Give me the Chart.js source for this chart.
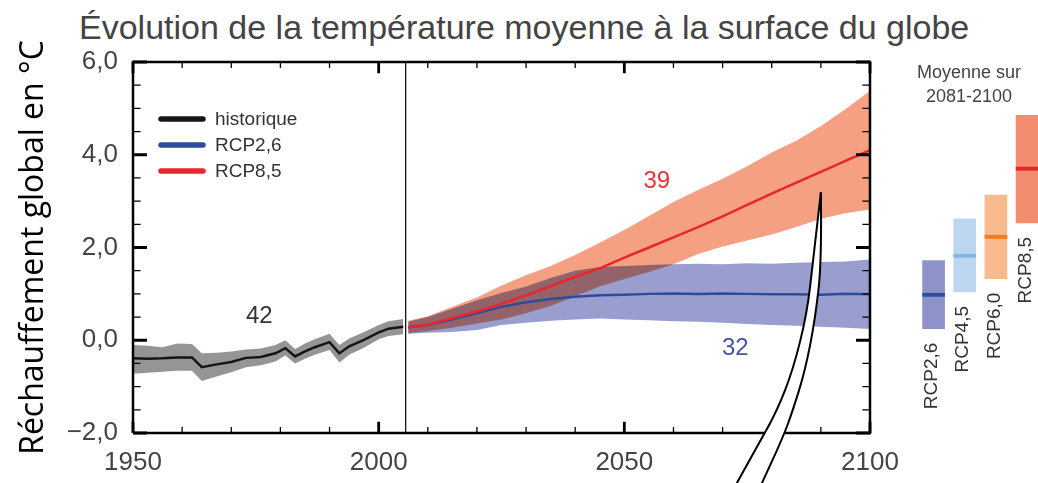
<!DOCTYPE html>
<html lang="fr">
<head>
  <meta charset="UTF-8">
  <title>Évolution de la température moyenne à la surface du globe</title>
  <script src="https://cdn.jsdelivr.net/npm/chart.js"></script>
  <style>
    html, body { margin: 0; padding: 0; background: #fff; overflow: hidden; }
    body { width: 1038px; height: 483px; position: relative; font-family: "Liberation Sans", Arial, sans-serif; }
    #titre { position: absolute; left: 79px; top: 11px; font-size: 34px; line-height: 33px; color: #444; white-space: nowrap; }
    #mainChart { position: absolute; left: 0; top: 0; }
    #sideChart { position: absolute; left: 900px; top: 0; }
  </style>
</head>
<body>
  <div id="titre">Évolution de la température moyenne à la surface du globe</div>
  <canvas id="mainChart" width="900" height="483"></canvas>
  <canvas id="sideChart" width="138" height="483"></canvas>

  <script>
    // axes
    const xMin = 1950, xMax = 2100, yMin = -2, yMax = 6;
    const xTickValues = [1950, 1960, 1970, 1980, 1990, 2000, 2010, 2020, 2030, 2040, 2050, 2060, 2070, 2080, 2090, 2100];
    const yTickValues = [-2, -1.5, -1, -0.5, 0, 0.5, 1, 1.5, 2, 2.5, 3, 3.5, 4, 4.5, 5, 5.5, 6];

    // historique (1950-2005)
    const histYears = [1950, 1953, 1956, 1959, 1962, 1964, 1967, 1970, 1973, 1976, 1979, 1981, 1983, 1985, 1987, 1990, 1992, 1994, 1997, 2000, 2002, 2005];
    const histMean  = [-0.39, -0.40, -0.39, -0.37, -0.37, -0.58, -0.52, -0.47, -0.38, -0.36, -0.28, -0.17, -0.35, -0.24, -0.15, -0.04, -0.28, -0.13, 0.01, 0.17, 0.25, 0.29];
    const histHigh  = [-0.10, -0.12, -0.15, -0.07, -0.08, -0.28, -0.27, -0.24, -0.20, -0.18, -0.10, 0.00, -0.19, -0.07, 0.02, 0.14, -0.10, 0.04, 0.18, 0.33, 0.41, 0.46];
    const histLow   = [-0.72, -0.70, -0.68, -0.66, -0.66, -0.88, -0.78, -0.69, -0.58, -0.54, -0.46, -0.33, -0.50, -0.40, -0.31, -0.21, -0.48, -0.31, -0.16, 0.02, 0.09, 0.13];

    // projections (2006-2100)
    const projYears = [2006, 2010, 2015, 2020, 2025, 2030, 2035, 2040, 2045, 2050, 2055, 2060, 2065, 2070, 2075, 2080, 2085, 2090, 2095, 2100];
    const rcp26Mean = [0.28, 0.33, 0.45, 0.58, 0.72, 0.82, 0.89, 0.94, 0.97, 0.98, 1.00, 1.01, 1.00, 1.01, 1.00, 0.99, 0.99, 0.98, 1.00, 0.99];
    const rcp26High = [0.40, 0.50, 0.68, 0.86, 1.02, 1.16, 1.34, 1.50, 1.58, 1.60, 1.62, 1.64, 1.65, 1.64, 1.66, 1.65, 1.67, 1.69, 1.70, 1.74];
    const rcp26Low  = [0.14, 0.16, 0.18, 0.22, 0.33, 0.38, 0.42, 0.45, 0.47, 0.45, 0.43, 0.41, 0.40, 0.38, 0.35, 0.33, 0.31, 0.29, 0.27, 0.24];
    const rcp85Mean = [0.28, 0.34, 0.48, 0.62, 0.79, 0.97, 1.16, 1.37, 1.55, 1.78, 2.00, 2.22, 2.44, 2.67, 2.92, 3.16, 3.40, 3.63, 3.87, 4.10];
    const rcp85High = [0.42, 0.52, 0.72, 0.92, 1.18, 1.40, 1.60, 1.84, 2.10, 2.38, 2.68, 2.98, 3.24, 3.48, 3.75, 4.05, 4.30, 4.62, 4.98, 5.38];
    const rcp85Low  = [0.15, 0.20, 0.27, 0.36, 0.45, 0.58, 0.74, 0.95, 1.16, 1.32, 1.47, 1.64, 1.86, 2.02, 2.15, 2.28, 2.44, 2.62, 2.74, 2.82];

    const splitYear = 2005.5;

    // nombre de modèles
    const countText   = ['42', '39', '32'];
    const countYears  = [1975.7, 2056.6, 2072.6];
    const countValues = [0.51, 3.42, -0.18];
    const countColors = ['#333333', '#E8333A', '#4452A8'];

    // moyenne sur 2081-2100
    const scenarios  = ['RCP2,6', 'RCP4,5', 'RCP6,0', 'RCP8,5'];
    const periodLow  = [0.25, 1.04, 1.33, 2.53];
    const periodHigh = [1.72, 2.62, 3.13, 4.85];
    const periodMean = [0.98, 1.82, 2.23, 3.70];
    const boxColors  = ['#8E92C9', '#BCD6F0', '#F8BA8C', '#F48C70'];
    const meanColors = ['#2F4FA0', '#82B8E2', '#F07C24', '#E4232B'];

    // flèche blanche (années / °C)
    const arrowLeftYears   = [2090.0, 2088.4, 2087.2, 2084.3, 2081.1, 2078.0, 2072.9];
    const arrowLeftValues  = [3.19, 1.72, 0.58, -0.65, -1.51, -2.11, -3.08];
    const arrowRightYears  = [2090.0, 2090.2, 2088.8, 2086.8, 2084.3, 2082.3, 2078.0];
    const arrowRightValues = [3.19, 1.72, 0.43, -0.65, -1.51, -2.09, -3.08];

    Chart.defaults.font.family = '"Liberation Sans", Arial, sans-serif';
    Chart.defaults.color = '#444';

    const pts = (xs, ys) => xs.map((x, i) => ({ x, y: ys[i] }));
    const fmt = v => (v < 0 ? '\u2212' : '') + Math.abs(v).toFixed(1).replace('.', ',');

    const band = (label, xs, ys, color, fill) => ({
      label, data: pts(xs, ys), fill, backgroundColor: color,
      borderWidth: 0, borderColor: 'transparent', pointRadius: 0
    });
    const line = (label, xs, ys, color, order) => ({
      label, data: pts(xs, ys), fill: false, borderColor: color,
      borderWidth: 2.5, pointRadius: 0, order
    });

    // graduations vers l'intérieur sur les 4 côtés (segments séparés par un point vide)
    function tickSegments(major, xLen, yLen) {
      const out = [];
      xTickValues.filter(v => (v % 50 === 0) === major).forEach(v => {
        out.push({ x: v, y: yMax }, { x: v, y: yMax - xLen }, { x: v, y: null });
        out.push({ x: v, y: yMin }, { x: v, y: yMin + xLen }, { x: v, y: null });
      });
      yTickValues.filter(v => (v % 2 === 0) === major).forEach(v => {
        out.push({ x: xMin, y: v }, { x: xMin + yLen, y: v }, { x: xMin, y: null });
        out.push({ x: xMax, y: v }, { x: xMax - yLen, y: v }, { x: xMax, y: null });
      });
      return out;
    }
    const trait = (label, data, width) => ({
      label, data, borderColor: '#000', borderWidth: width, pointRadius: 0,
      fill: false, spanGaps: false, clip: false, order: 0
    });

    function smoothPath(ctx, p, start) {
      if (start) ctx.moveTo(p[0][0], p[0][1]); else ctx.lineTo(p[0][0], p[0][1]);
      for (let i = 1; i < p.length - 1; i++) {
        ctx.quadraticCurveTo(p[i][0], p[i][1], (p[i][0] + p[i + 1][0]) / 2, (p[i][1] + p[i + 1][1]) / 2);
      }
      ctx.lineTo(p[p.length - 1][0], p[p.length - 1][1]);
    }

    const annotations = {
      id: 'annotations',
      // les enveloppes se superposent en "multiply" comme sur l'original
      beforeDraw(chart) { chart.ctx.globalCompositeOperation = 'multiply'; },
      beforeDatasetsDraw(chart) { chart.ctx.globalCompositeOperation = 'source-over'; },
      afterDraw(chart) {
        const { ctx, chartArea: a, scales: { x, y } } = chart;
        ctx.save();
        ctx.globalCompositeOperation = 'source-over';

        // nombre de modèles
        ctx.font = '24px "Liberation Sans", Arial, sans-serif';
        ctx.textAlign = 'center';
        ctx.textBaseline = 'middle';
        countText.forEach((s, i) => {
          ctx.fillStyle = countColors[i];
          ctx.fillText(s, x.getPixelForValue(countYears[i]), y.getPixelForValue(countValues[i]));
        });

        // légende
        ctx.font = '19px "Liberation Sans", Arial, sans-serif';
        ctx.textAlign = 'left';
        ctx.lineCap = 'round';
        chart.data.datasets.filter(d => d.legend).forEach((d, i) => {
          const ly = a.top + 57 + i * 26;
          ctx.strokeStyle = d.borderColor;
          ctx.lineWidth = 5.5;
          ctx.beginPath();
          ctx.moveTo(a.left + 28, ly); ctx.lineTo(a.left + 70, ly);
          ctx.stroke();
          ctx.fillStyle = '#333';
          ctx.fillText(d.label, a.left + 82, ly + 1);
        });

        // flèche
        const left = arrowLeftYears.map((v, i) => [x.getPixelForValue(v), y.getPixelForValue(arrowLeftValues[i])]);
        const right = arrowRightYears.map((v, i) => [x.getPixelForValue(v), y.getPixelForValue(arrowRightValues[i])]);
        ctx.lineCap = 'butt';
        ctx.beginPath();
        smoothPath(ctx, left, true);
        smoothPath(ctx, right.slice().reverse(), false);
        ctx.closePath();
        ctx.fillStyle = '#fff';
        ctx.fill();
        ctx.strokeStyle = '#000';
        ctx.lineWidth = 2;
        ctx.beginPath(); smoothPath(ctx, left, true); ctx.stroke();
        ctx.beginPath(); smoothPath(ctx, right, true); ctx.stroke();
        ctx.restore();
      }
    };

    const hist = line('historique', histYears, histMean, '#151515', 3);
    const r26 = line('RCP2,6', projYears, rcp26Mean, '#2E4C9E', 2);
    const r85 = line('RCP8,5', projYears, rcp85Mean, '#E8262B', 1);
    hist.legend = r26.legend = r85.legend = true;

    new Chart(document.getElementById('mainChart'), {
      type: 'line',
      data: {
        datasets: [
          band('hist haut', histYears, histHigh, '#959595', '+1'),
          band('hist bas', histYears, histLow, '#959595', false),
          band('RCP2,6 haut', projYears, rcp26High, '#9A9ECE', '+1'),
          band('RCP2,6 bas', projYears, rcp26Low, '#9A9ECE', false),
          band('RCP8,5 haut', projYears, rcp85High, '#F5A083', '+1'),
          band('RCP8,5 bas', projYears, rcp85Low, '#F5A083', false),
          hist, r26, r85,
          { label: '2005', data: [{ x: splitYear, y: yMin }, { x: splitYear, y: yMax }],
            borderColor: '#000', borderWidth: 1.2, pointRadius: 0, fill: false, order: 4 },
          trait('cadre', [{ x: xMin, y: yMin }, { x: xMin, y: yMax }, { x: xMax, y: yMax }, { x: xMax, y: yMin }, { x: xMin, y: yMin }], 2.5),
          trait('graduations', tickSegments(false, 0.13, 1.55), 1.3),
          trait('graduations majeures', tickSegments(true, 0.24, 2.85), 2.8)
        ]
      },
      options: {
        responsive: false,
        animation: false,
        layout: { padding: { top: 62, right: 30, bottom: 0, left: 0 }, autoPadding: false },
        plugins: {
          legend: { display: false },
          tooltip: { enabled: false },
          filler: { drawTime: 'beforeDatasetsDraw' }
        },
        scales: {
          x: {
            type: 'linear', min: xMin, max: xMax,
            grid: { display: false, drawTicks: false }, border: { display: false },
            afterFit: s => { s.height = 50; s.paddingLeft = 0; s.paddingRight = 0; },
            ticks: {
              stepSize: 10, autoSkip: false, maxRotation: 0, padding: 14,
              color: '#444', font: { size: 26 },
              callback: v => v % 50 === 0 ? String(v) : ''
            }
          },
          y: {
            min: yMin, max: yMax,
            grid: { display: false, drawTicks: false }, border: { display: false },
            afterFit: s => { s.width = 133; s.paddingTop = 0; s.paddingBottom = 0; },
            ticks: {
              stepSize: 0.5, padding: 15, color: '#444', font: { size: 26 },
              callback: v => v % 2 === 0 ? fmt(v) : ''
            },
            title: {
              display: true, text: 'Réchauffement global en °C', color: '#000',
              font: { family: '"Open Sans", sans-serif', size: 32 },
              padding: { top: 15, bottom: 0 }
            }
          }
        }
      },
      plugins: [annotations]
    });

    const sideText = {
      id: 'sideText',
      afterDraw(chart) {
        const { ctx, chartArea: a, scales: { x, y } } = chart;
        ctx.save();
        ctx.fillStyle = '#444';
        ctx.font = '18px "Liberation Sans", Arial, sans-serif';
        ctx.textAlign = 'center';
        ctx.textBaseline = 'middle';
        ctx.fillText('Moyenne sur', a.left + 51, 73);
        ctx.fillText('2081-2100', a.left + 51, 97);
        ctx.fillStyle = '#333';
        ctx.font = '19px "Liberation Sans", Arial, sans-serif';
        ctx.textAlign = 'right';
        scenarios.forEach((s, i) => {
          ctx.save();
          ctx.translate(x.getPixelForValue(i + 1) - 1.5, y.getPixelForValue(periodLow[i]) + 14);
          ctx.rotate(-Math.PI / 2);
          ctx.fillText(s, 0, 0);
          ctx.restore();
        });
        ctx.restore();
      }
    };

    new Chart(document.getElementById('sideChart'), {
      type: 'bar',
      data: {
        datasets: [
          { label: 'plage', data: scenarios.map((s, i) => ({ x: i + 1, y: [periodLow[i], periodHigh[i]] })),
            backgroundColor: boxColors, barThickness: 22, grouped: false, order: 2 },
          { label: 'moyenne', data: scenarios.map((s, i) => ({ x: i + 1, y: [periodMean[i] - 0.035, periodMean[i] + 0.035] })),
            backgroundColor: meanColors, barThickness: 22, grouped: false, order: 1 }
        ]
      },
      options: {
        responsive: false,
        animation: false,
        layout: { padding: { top: 62, right: 0, bottom: 50, left: 18 }, autoPadding: false },
        plugins: { legend: { display: false }, tooltip: { enabled: false } },
        scales: {
          x: { type: 'linear', min: 0.5, max: 4.35, offset: false, display: false },
          y: { min: yMin, max: yMax, display: false }
        }
      },
      plugins: [sideText]
    });
  </script>
</body>
</html>
